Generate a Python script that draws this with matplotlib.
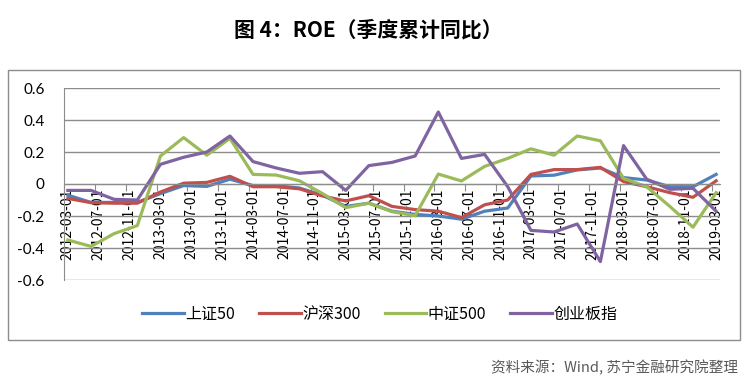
import numpy as np
import matplotlib
matplotlib.use("Agg")
from matplotlib import pyplot as plt
from matplotlib.patches import Rectangle

plt.rcParams['font.family'] = ['Noto Sans CJK SC', 'DejaVu Sans']

# quarterly points, 2012-03 .. 2019-03
quarters = ["%d-%02d" % (y, m) for y in range(2012, 2020) for m in (3, 6, 9, 12)][:29]
tick_labels = ["%d-%02d-01" % (y, m) for y in range(2012, 2020) for m in (3, 7, 11)][:22]

sz50 = [-0.07, -0.115, -0.115, -0.115, -0.06, -0.01, -0.015, 0.03, -0.01, -0.01,
        -0.025, -0.07, -0.14, -0.12, -0.17, -0.19, -0.20, -0.22, -0.17, -0.15,
        0.05, 0.055, 0.088, 0.10, 0.04, 0.025, -0.017, -0.017, 0.06]
hs300 = [-0.09, -0.117, -0.12, -0.12, -0.05, 0.005, 0.01, 0.048, -0.017, -0.017,
         -0.03, -0.075, -0.106, -0.073, -0.14, -0.16, -0.17, -0.21, -0.13, -0.10,
         0.06, 0.09, 0.09, 0.104, 0.015, -0.017, -0.054, -0.083, 0.02]
zz500 = [-0.35, -0.39, -0.31, -0.26, 0.175, 0.29, 0.18, 0.285, 0.06, 0.056,
         0.02, -0.06, -0.148, -0.12, -0.173, -0.198, 0.062, 0.019, 0.11, 0.16,
         0.22, 0.18, 0.30, 0.27, 0.035, -0.017, -0.14, -0.27, -0.054]
cyb = [-0.04, -0.04, -0.096, -0.10, 0.123, 0.167, 0.20, 0.30, 0.14, 0.10,
       0.067, 0.077, -0.04, 0.115, 0.135, 0.175, 0.45, 0.16, 0.185, -0.017,
       -0.29, -0.30, -0.25, -0.485, 0.24, 0.03, -0.033, -0.027, -0.17]

names = ["上证50", "沪深300", "中证500", "创业板指"]
colors = ["#4F81BD", "#C0504D", "#9BBB59", "#8064A2"]

W, H = 753, 388
fig = plt.figure(figsize=(W / 100, H / 100), dpi=100)

# axes area in pixels: x 64..720, y 88..280
ax = fig.add_axes([64 / W, (H - 280) / H, (720 - 64) / W, (280 - 88) / H])

x = np.arange(len(quarters)) * 3  # months since 2012-03
for vals, name, c in zip([sz50, hs300, zz500, cyb], names, colors):
    ax.plot(x, vals, color=c, lw=2.3, label=name, solid_joinstyle='round')

ax.set_xlim(-0.5, 84.5)
ax.set_ylim(-0.6, 0.6)
ax.set_yticks(np.arange(-0.6, 0.61, 0.2))
ax.set_yticklabels(["-0.6", "-0.4", "-0.2", "0", "0.2", "0.4", "0.6"],
                   family=['Lato', 'DejaVu Sans'], fontsize=11)
ax.tick_params(axis='y', length=0, pad=14)
ax.yaxis.grid(True, color="#8c8c8c", lw=1)
ax.set_axisbelow(True)

# x axis crosses at 0, ticks between months
ax.set_xticks(np.arange(-0.5, 85, 4))
ax.set_xticklabels([])
ax.set_xticks(np.arange(0, 85, 4), minor=True)
ax.set_xticklabels(tick_labels, minor=True, fontsize=9.2, family=['DejaVu Sans'])
ax.tick_params(axis='x', which='major', direction='out', length=5, color="#8c8c8c")
ax.tick_params(axis='x', which='minor', length=0, pad=3, labelrotation=90)

for s in ['top', 'right']:
    ax.spines[s].set_visible(False)
ax.spines['bottom'].set_position(('data', 0))
ax.spines['bottom'].set_color("#8c8c8c")
ax.spines['left'].set_color("#8c8c8c")

leg = fig.legend(loc='center', bbox_to_anchor=(380 / W, (H - 314) / H), ncol=4,
                 frameon=False, fontsize=11.5, handlelength=2.6, handletextpad=0.1,
                 columnspacing=1.5)

fig.add_artist(Rectangle((8 / W, (H - 340) / H), 732 / W, 270 / H,
                         transform=fig.transFigure, fill=False,
                         edgecolor="#8c8c8c", lw=1))

fig.text(368 / W, (H - 30) / H, "图 4：ROE（季度累计同比）", ha='center', va='center',
         fontsize=15, fontweight='bold')
fig.text(738 / W, (H - 368) / H, "资料来源：Wind, 苏宁金融研究院整理", ha='right',
         va='center', fontsize=10.5, color="#595959", style='italic')

fig.savefig("out.png", dpi=100)
